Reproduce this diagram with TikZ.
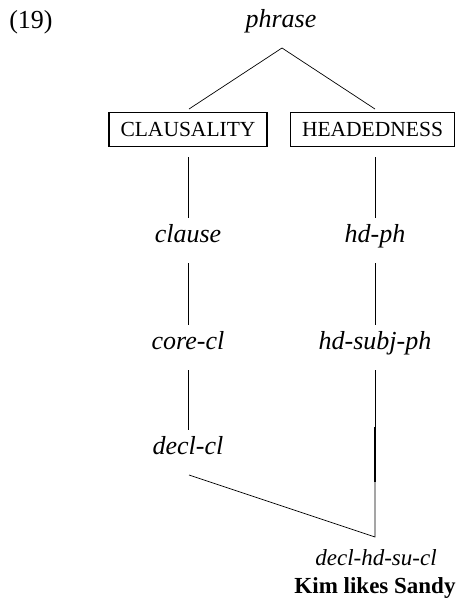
\documentclass[tikz,border=0pt]{standalone}
\usepackage{fontspec}
\setmainfont{Liberation Serif}
\begin{document}
\begin{tikzpicture}[x=1pt,y=-1pt,
  lab/.style={inner sep=0pt,anchor=base,font=\fontsize{26}{30}\selectfont\itshape},
  sml/.style={inner sep=0pt,anchor=base,font=\fontsize{23}{27}\selectfont\itshape},
  boxed/.style={draw,line width=1.6pt,minimum height=34pt,inner xsep=11.5pt,font=\fontsize{21.5}{25}\selectfont},
  edge/.style={line width=0.7pt}]
\useasboundingbox (0,0) rectangle (459,606);
\node[inner sep=0pt,anchor=base,font=\fontsize{26}{30}\selectfont] (num) at (31,28) {(19)};
\node[lab] (phrase) at (281,27) {phrase};
\node[boxed] (claus) at (188,129.5) {CLAUSALITY};
\node[boxed] (head) at (372.5,129.5) {HEADEDNESS};
\node[lab] (clause) at (188,242) {clause};
\node[lab] (hdph) at (375,242) {hd-ph};
\node[lab] (core) at (188,349) {core-cl};
\node[lab] (hdsubj) at (375,349) {hd-subj-ph};
\node[lab] (decl) at (188,454) {decl-cl};
\node[sml] (dhsc) at (376,565) {decl-hd-su-cl};
\node[inner sep=0pt,anchor=base,font=\fontsize{23}{27}\selectfont\bfseries] (kim) at (375,593) {Kim likes Sandy};
\coordinate (apex) at (282,48);
\coordinate (bot) at (375,537);
\draw[edge] (189,109) -- (apex) -- (375,109);
\draw[edge] (188,157) -- (188,218);
\draw[edge] (375,157) -- (375,218);
\draw[edge] (188,263) -- (188,325);
\draw[edge] (375,263) -- (375,325);
\draw[edge] (188,370) -- (188,430);
\draw[edge] (375,370) -- (375,427);
\draw[line width=1.6pt] (375,427) -- (375,482);
\draw[edge] (375,482) -- (bot) -- (189,475);
\end{tikzpicture}
\end{document}
